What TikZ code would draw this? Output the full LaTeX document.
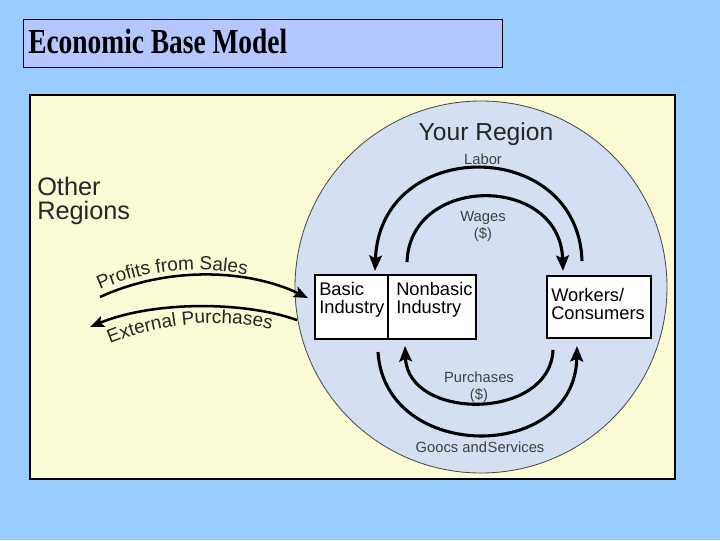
\documentclass[tikz,border=0pt]{standalone}
\usepackage{fontspec}
\setmainfont{Liberation Serif}
\setsansfont{Liberation Sans}
\newfontfamily\titlefont[FakeStretch=0.78]{Liberation Serif}
\usetikzlibrary{arrows.meta,decorations.text,positioning}

\definecolor{slideblue}{RGB}{153,204,255}
\definecolor{titlefill}{RGB}{180,200,255}
\definecolor{panelyellow}{RGB}{250,250,212}
\definecolor{regionblue}{RGB}{212,224,242}

\begin{document}
\begin{tikzpicture}[x=0.025cm, y=-0.025cm,
    flow/.style={line width=2.2pt, -{Stealth[length=11pt,width=9pt,inset=2pt]}},
    trade/.style={line width=1.8pt, -{Stealth[length=10pt,width=8pt,inset=2pt]}},
    box/.style={draw, line width=0.9pt, fill=white, inner sep=0pt},
    boxtext/.style={anchor=north west, inner sep=0pt, align=left, font=\sffamily\fontsize{13}{12.5}\selectfont},
    flowlabel/.style={inner sep=0pt, anchor=base, text=black!75, font=\sffamily\fontsize{10.5}{12}\selectfont},
    bigtext/.style={inner sep=0pt, text=black!85, font=\sffamily\fontsize{18}{17}\selectfont}]
        % Slide background
        \fill[slideblue] (0,0) rectangle (720,540);
        \useasboundingbox (0,0) rectangle (720,540);

        % Title bar
        \draw[fill=titlefill, line width=0.6pt] (23,19) rectangle (502,67);
        \node[anchor=base west, inner sep=0pt, font=\titlefont\bfseries\fontsize{25}{27}\selectfont] (title) at (28,53) {Economic Base Model};

        % Other regions (yellow panel)
        \draw[fill=panelyellow, line width=0.8pt] (30,95) rectangle (675,479);
        \node[bigtext, anchor=base west, align=left] (other) at (37,219) {Other\\Regions};

        % Your region (blue circle)
        \draw[fill=regionblue, draw=black!70, line width=0.6pt] (481,287) circle (186);
        \node[bigtext, anchor=base, font=\sffamily\fontsize{17.5}{18}\selectfont] (your) at (486,140) {Your Region};

        % Industry and workers boxes
        \node[box, minimum width=1.825cm, minimum height=1.6cm] (basic) at (351.5,307) {};
        \node[box, minimum width=2.2cm, minimum height=1.6cm] (nonbasic) at (432,307) {};
        \node[box, minimum width=2.6cm, minimum height=1.55cm] (workers) at (599,307) {};
        \node[boxtext] (basictext) at (319,282) {Basic\\Industry};
        \node[boxtext] (nonbasictext) at (396,282) {Nonbasic\\Industry};
        \node[boxtext] (workerstext) at (551,288) {Workers/\\Consumers};

        % Flow end points
        \coordinate (laborS) at (582,261);
        \coordinate (laborE) at (375,271);
        \coordinate (wagesS) at (407,262);
        \coordinate (wagesE) at (563,271);
        \coordinate (goodsS) at (378,352);
        \coordinate (goodsE) at (577,346);
        \coordinate (purchS) at (553,350);
        \coordinate (purchE) at (405,346);

        % Flows inside the region
        \draw[flow] (laborS) .. controls (578,136) and (380,136) .. (laborE);
        \draw[flow] (wagesS) .. controls (410,174) and (560,174) .. (wagesE);
        \draw[flow] (goodsS) .. controls (385,463) and (575,463) .. (goodsE);
        \draw[flow] (purchS) .. controls (550,421) and (408,421) .. (purchE);

        \node[flowlabel] (labor) at (483,164) {Labor};
        \node[flowlabel, align=center] (wages) at (483,238) {Wages\\(\$)};
        \node[flowlabel, align=center] (purch) at (479,399) {Purchases\\(\$)};
        \node[flowlabel] (goods) at (480,452) {Goocs and\hspace{0.5pt}Services};

        % Trade with other regions
        \coordinate (profitsS) at (100,297);
        \coordinate (profitsE) at (308,298);
        \coordinate (externS) at (297,320);
        \coordinate (externE) at (90,327);
        \draw[trade] (profitsS) .. controls (170,265) and (250,270) .. (profitsE);
        \draw[trade] (externS) .. controls (240,300) and (150,302) .. (externE);

        \path[decorate, decoration={text along path, text align=left,
            text={|\sffamily\fontsize{13.5}{14}\selectfont\color{black!85}|Profits from Sales}}]
            (100,290) .. controls (145,270) and (200,262) .. (270,280);
        \path[decorate, decoration={text along path, text align=left,
            text={|\sffamily\fontsize{13.5}{14}\selectfont\color{black!85}|External Purchases}}]
            (110,344) .. controls (160,324) and (230,312) .. (300,338);
\end{tikzpicture}
\end{document}
